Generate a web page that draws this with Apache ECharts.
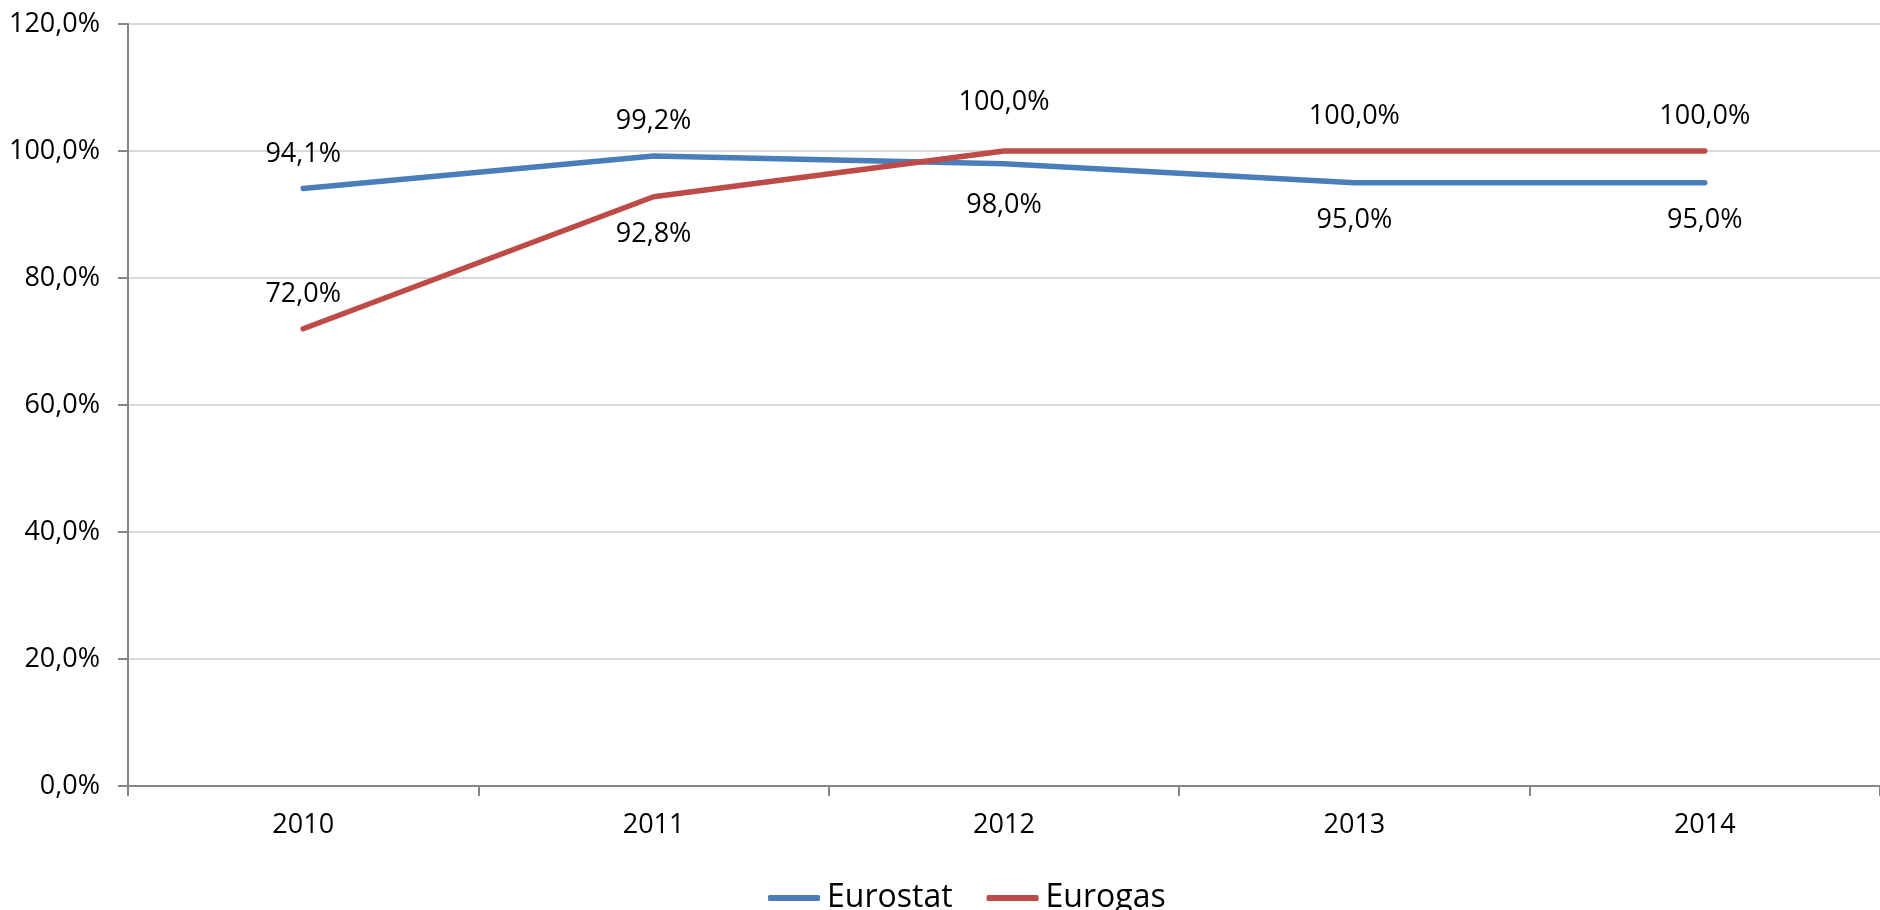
<!DOCTYPE html>
<html><head><meta charset="utf-8">
<script src="https://cdn.jsdelivr.net/npm/echarts@6/dist/echarts.min.js"></script>
<style>html,body{margin:0;padding:0;background:#fff}#c{width:1880px;height:910px}</style>
</head><body><div id="c"></div>
<script>
var categories = ['2010', '2011', '2012', '2013', '2014'];
var eurostat = [94.1, 99.2, 98.0, 95.0, 95.0];
var eurogas = [72.0, 92.8, 100.0, 100.0, 100.0];
var yTicks = [0, 20, 40, 60, 80, 100, 120];

// label placement (style)
var eurostatLabelPos = ['top', 'top', 'bottom', 'bottom', 'bottom'];
var eurostatLabelDist = [20, 20, 27, 23, 23];
var eurogasLabelPos = ['top', 'bottom', 'top', 'top', 'top'];
var eurogasLabelDist = [20, 23, 34, 20, 20];

function fmt(v) { return v.toFixed(1).replace('.', ',') + '%'; }
var FONT = 'Open Sans';

function build(values, pos, dist) {
  return values.map(function (v, i) {
    return { value: v, label: { position: pos[i], distance: dist[i] } };
  });
}

var chart = echarts.init(document.getElementById('c'));
chart.setOption({
  animation: false,
  backgroundColor: '#fff',
  textStyle: { fontFamily: FONT },
  grid: { left: 128, top: 24, width: 1759, height: 762, containLabel: false },
  legend: {
    left: 763, top: 877,
    itemWidth: 52, itemHeight: 6, itemGap: 34,
    icon: 'roundRect',
    textStyle: { fontFamily: FONT, fontSize: 32, color: '#000', padding: [0, 0, 0, 2] },
    data: ['Eurostat', 'Eurogas']
  },
  xAxis: {
    type: 'category',
    data: categories,
    boundaryGap: true,
    axisLine: { lineStyle: { color: '#868686', width: 2 } },
    axisTick: { show: true, length: 10, lineStyle: { color: '#868686', width: 2 } },
    axisLabel: { fontFamily: FONT, fontSize: 27, color: '#000', margin: 26 }
  },
  yAxis: {
    type: 'value',
    min: yTicks[0], max: yTicks[yTicks.length - 1], interval: yTicks[1] - yTicks[0],
    axisLine: { show: true, lineStyle: { color: '#868686', width: 2 } },
    axisTick: { show: true, length: 10, lineStyle: { color: '#868686', width: 2 } },
    splitLine: { lineStyle: { color: '#D9D9D9', width: 2 } },
    axisLabel: { fontFamily: FONT, fontSize: 27, color: '#000', margin: 28, formatter: function (v) { return fmt(v); } }
  },
  series: [
    {
      name: 'Eurostat', type: 'line',
      data: build(eurostat, eurostatLabelPos, eurostatLabelDist),
      symbol: 'circle', symbolSize: 2, showSymbol: true,
      lineStyle: { color: '#4A7EBB', width: 5.5, cap: 'round', join: 'round' },
      itemStyle: { color: '#4A7EBB' },
      label: { show: true, fontFamily: FONT, fontSize: 27, color: '#000', formatter: function (p) { return fmt(p.value); } },
      z: 3
    },
    {
      name: 'Eurogas', type: 'line',
      data: build(eurogas, eurogasLabelPos, eurogasLabelDist),
      symbol: 'circle', symbolSize: 2, showSymbol: true,
      lineStyle: { color: '#BE4B48', width: 5.5, cap: 'round', join: 'round' },
      itemStyle: { color: '#BE4B48' },
      label: { show: true, fontFamily: FONT, fontSize: 27, color: '#000', formatter: function (p) { return fmt(p.value); } },
      z: 4
    }
  ]
});
</script></body></html>
